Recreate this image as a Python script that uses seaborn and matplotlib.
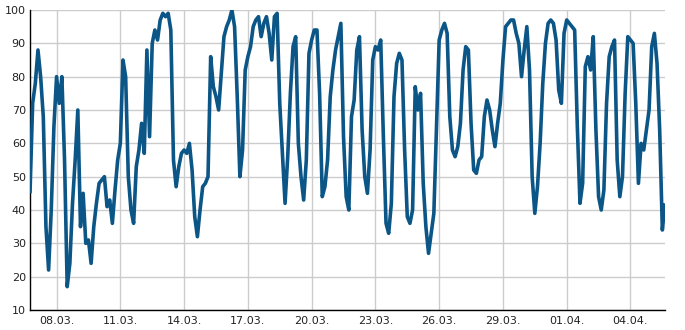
import matplotlib
matplotlib.use("Agg")
import matplotlib.pyplot as plt
import matplotlib.dates as mdates
from matplotlib.ticker import MultipleLocator
import numpy as np
import pandas as pd
import seaborn as sns

# ---- data: readings every 3 hours ----
start_time = "2021-03-06 18:00"
sample_freq = "3h"
values = [
    45, 72, 78, 88, 80, 68, 35, 22, 40, 65,
    80, 72, 80, 55, 17, 24, 42, 55, 70, 35,
    45, 30, 31, 24, 35, 42, 48, 49, 50, 41,
    43, 36, 46, 55, 60, 85, 80, 50, 40, 36,
    53, 58, 66, 57, 88, 62, 90, 94, 91, 97,
    99, 98, 99, 94, 55, 47, 53, 57, 58, 57,
    60, 52, 38, 32, 40, 47, 48, 50, 86, 77,
    74, 70, 81, 92, 95, 97, 100, 95, 74, 50,
    58, 82, 86, 89, 95, 97, 98, 92, 96, 98,
    93, 85, 98, 99, 72, 57, 42, 56, 75, 89,
    92, 60, 50, 43, 55, 87, 91, 94, 94, 75,
    44, 47, 55, 74, 82, 88, 92, 96, 62, 44,
    40, 68, 73, 88, 92, 64, 50, 45, 58, 85,
    89, 88, 91, 62, 36, 33, 42, 74, 84, 87,
    85, 58, 38, 36, 40, 77, 70, 75, 48, 35,
    27, 33, 39, 65, 91, 94, 96, 93, 68, 58,
    56, 59, 66, 82, 89, 88, 66, 52, 51, 55,
    56, 68, 73, 70, 64, 59, 66, 72, 85, 95,
    96, 97, 97, 93, 90, 80, 88, 95, 82, 50,
    39, 47, 60, 78, 90, 96, 97, 96, 91, 76,
    72, 93, 97, 96, 95, 94, 65, 42, 48, 83,
    86, 82, 92, 64, 44, 40, 46, 72, 86, 89,
    91, 55, 44, 50, 75, 92, 91, 90, 72, 48,
    60, 58, 64, 70, 89, 93, 84, 64, 34, 42,
]
tick_first = "2021-03-08"
tick_last = "2021-04-04"
tick_step = "3D"
y_min, y_max = 10, 100

times = pd.date_range(start_time, periods=len(values), freq=sample_freq)
df = pd.DataFrame({"time": times, "value": values})
tick_dates = pd.date_range(tick_first, tick_last, freq=tick_step)

sns.set_style("white")
plt.rcParams["font.family"] = ["DejaVu Sans"]

fig = plt.figure(figsize=(6.85, 3.30), dpi=100)
ax = fig.add_axes([30 / 685, 1 - 310 / 330, 635 / 685, 300 / 330])

sns.lineplot(data=df, x="time", y="value", ax=ax, color="#0b5687",
             linewidth=2.6, zorder=3, solid_joinstyle="round",
             solid_capstyle="butt")

ax.set_xlim(times[0], times[-1])
ax.set_ylim(y_min, y_max)
ax.set_xticks(tick_dates)
ax.xaxis.set_major_formatter(mdates.DateFormatter("%d.%m."))
ax.yaxis.set_major_locator(MultipleLocator(10))
ax.yaxis.set_minor_locator(MultipleLocator(5))

ax.grid(True, which="major", color="#cccccc", linewidth=1.0, zorder=0)
ax.set_xlabel("")
ax.set_ylabel("")

for s in ["top", "right"]:
    ax.spines[s].set_visible(False)
for s in ["left", "bottom"]:
    ax.spines[s].set_color("black")
    ax.spines[s].set_linewidth(1.0)

ax.tick_params(axis="both", which="major", direction="in", length=5,
               width=1, color="black", labelsize=8, labelcolor="#222222")
ax.tick_params(axis="y", which="minor", direction="in", length=3,
               width=1, color="black")
ax.tick_params(axis="x", pad=4)
ax.tick_params(axis="y", pad=3)

fig.savefig("out.png", dpi=100)
